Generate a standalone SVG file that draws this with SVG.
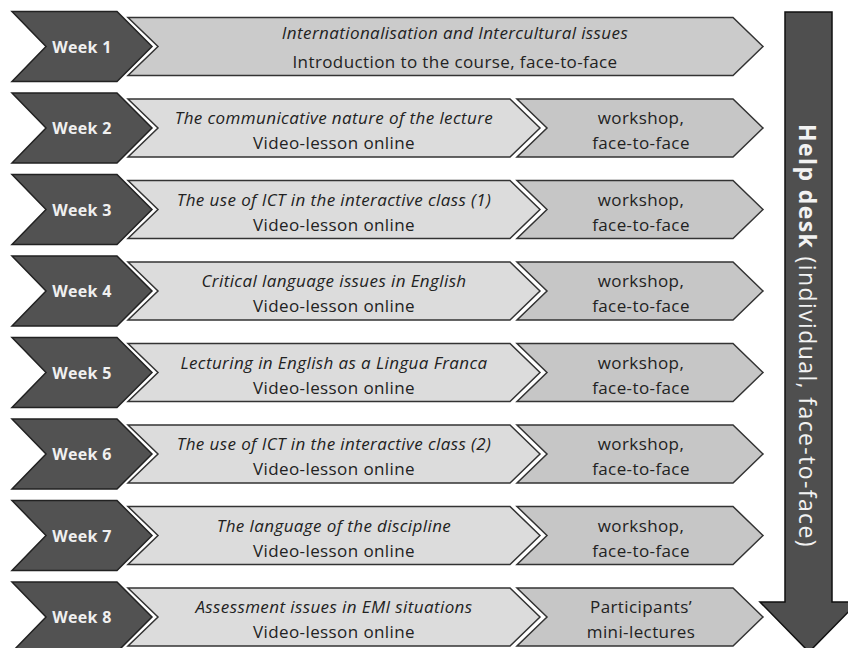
<svg xmlns="http://www.w3.org/2000/svg" width="848" height="648" viewBox="0 0 848 648">
<style>
.wk{fill:#525252;stroke:#222;stroke-width:1.5}
.bar{fill:#cbcbcb;stroke:#333;stroke-width:1.5}
.s1{fill:#dcdcdc;stroke:#333;stroke-width:1.5}
.s2{fill:#c6c6c6;stroke:#333;stroke-width:1.5}
text{font-family:"Open Sans",Lato,sans-serif;font-size:17px;letter-spacing:0.4px;fill:#222;text-anchor:middle}
.wt{font-weight:bold;fill:#f0f0f0;font-size:16px;letter-spacing:0.3px}
.it{font-style:italic}
</style>
<defs>
<polygon id="chev" class="wk" points="12,-35 117,-35 152,0 117,35 12,35 46,0"/>
<polygon id="full" class="bar" points="128,-29 733,-29 763,0 733,29 128,29 158,0"/>
<polygon id="seg1" class="s1" points="128,-29 510,-29 540,0 510,29 128,29 158,0"/>
<polygon id="seg2" class="s2" points="517,-29 733,-29 763,0 733,29 517,29 547,0"/>
</defs>
<rect width="848" height="648" fill="#fff"/>
<g id="helpdesk">
<polygon points="785,12 832,12 832,602 858,602 809,652 760,602 785,602" fill="#4f4f4f" stroke="#111" stroke-width="1.5"/>
<text transform="translate(799,124) rotate(90)" style="font-size:23px;letter-spacing:1.4px;fill:#f2f2f2;text-anchor:start"><tspan font-weight="bold">Help desk</tspan> (individual, face-to-face)</text>
</g>
<g id="week1" transform="translate(0,46.5)">
<use href="#chev"/><use href="#full"/>
<text class="wt" x="82" y="6">Week 1</text>
<text class="it" x="455" y="-8">Internationalisation and Intercultural issues</text>
<text x="455" y="21">Introduction to the course, face-to-face</text>
</g>
<g id="week2" transform="translate(0,128)">
<use href="#chev"/><use href="#seg1"/><use href="#seg2"/>
<text class="wt" x="82" y="6">Week 2</text>
<text class="it" x="334" y="-4">The communicative nature of the lecture</text>
<text x="334" y="21">Video-lesson online</text>
<text x="641" y="-4">workshop,</text>
<text x="641" y="21">face-to-face</text>
</g>
<g id="week3" transform="translate(0,209.5)">
<use href="#chev"/><use href="#seg1"/><use href="#seg2"/>
<text class="wt" x="82" y="6">Week 3</text>
<text class="it" x="334" y="-4">The use of ICT in the interactive class (1)</text>
<text x="334" y="21">Video-lesson online</text>
<text x="641" y="-4">workshop,</text>
<text x="641" y="21">face-to-face</text>
</g>
<g id="week4" transform="translate(0,291)">
<use href="#chev"/><use href="#seg1"/><use href="#seg2"/>
<text class="wt" x="82" y="6">Week 4</text>
<text class="it" x="334" y="-4">Critical language issues in English</text>
<text x="334" y="21">Video-lesson online</text>
<text x="641" y="-4">workshop,</text>
<text x="641" y="21">face-to-face</text>
</g>
<g id="week5" transform="translate(0,372.5)">
<use href="#chev"/><use href="#seg1"/><use href="#seg2"/>
<text class="wt" x="82" y="6">Week 5</text>
<text class="it" x="334" y="-4">Lecturing in English as a Lingua Franca</text>
<text x="334" y="21">Video-lesson online</text>
<text x="641" y="-4">workshop,</text>
<text x="641" y="21">face-to-face</text>
</g>
<g id="week6" transform="translate(0,454)">
<use href="#chev"/><use href="#seg1"/><use href="#seg2"/>
<text class="wt" x="82" y="6">Week 6</text>
<text class="it" x="334" y="-4">The use of ICT in the interactive class (2)</text>
<text x="334" y="21">Video-lesson online</text>
<text x="641" y="-4">workshop,</text>
<text x="641" y="21">face-to-face</text>
</g>
<g id="week7" transform="translate(0,535.5)">
<use href="#chev"/><use href="#seg1"/><use href="#seg2"/>
<text class="wt" x="82" y="6">Week 7</text>
<text class="it" x="334" y="-4">The language of the discipline</text>
<text x="334" y="21">Video-lesson online</text>
<text x="641" y="-4">workshop,</text>
<text x="641" y="21">face-to-face</text>
</g>
<g id="week8" transform="translate(0,617)">
<use href="#chev"/><use href="#seg1"/><use href="#seg2"/>
<text class="wt" x="82" y="6">Week 8</text>
<text class="it" x="334" y="-4">Assessment issues in EMI situations</text>
<text x="334" y="21">Video-lesson online</text>
<text x="641" y="-4">Participants’</text>
<text x="641" y="21">mini-lectures</text>
</g>
</svg>
